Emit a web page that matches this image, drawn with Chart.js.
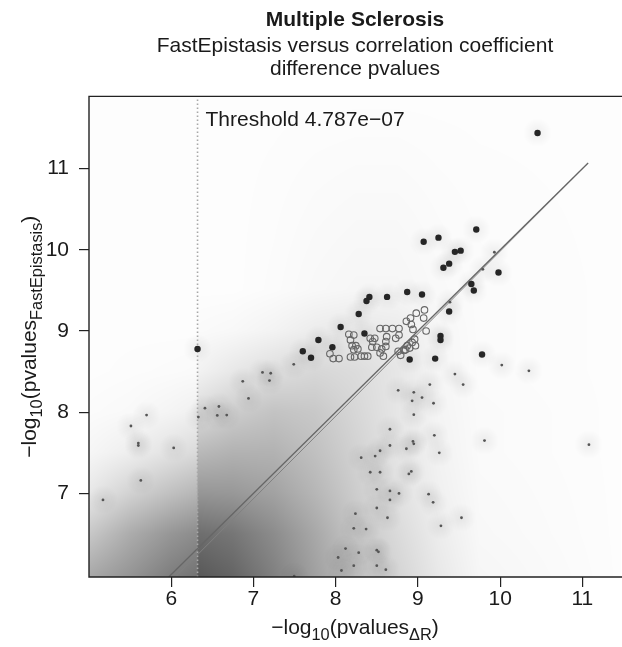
<!DOCTYPE html>
<html>
<head>
<meta charset="utf-8">
<script src="https://cdn.jsdelivr.net/npm/chart.js@4.4.1/dist/chart.umd.min.js"></script>
<style>
  html, body { margin: 0; padding: 0; background: #fff; overflow: hidden; }
  canvas { display: block; }
</style>
</head>
<body>
<canvas id="msChart" width="622" height="647"></canvas>
<script>
// axes
const xTicks = [6, 7, 8, 9, 10, 11];
const yTicks = [7, 8, 9, 10, 11];
const xRange = [5.0, 11.47];
const yRange = [5.97, 11.89];

// significance threshold, -log10(4.787e-07)
const threshold = 6.32;
const thresholdLabel = 'Threshold 4.787e\u221207';

// y = x reference lines
const lineX = [5.97, 11.07];
const lineY = [5.97, 11.07];
const line2X = [6.05, 11.07];
const line2Y = [5.97, 11.07];

// large black points
const bigX = [10.455, 9.71, 9.52, 9.45, 9.07, 9.25, 9.31, 9.38, 9.98, 9.65, 9.68, 9.78, 8.625, 8.87, 9.05,
  9.38, 9.275, 9.275, 9.21, 8.90, 8.41, 8.375, 8.28, 8.06, 7.79, 7.60, 7.70, 7.96, 8.35, 6.32];
const bigY = [11.44, 10.25, 9.99, 9.975, 10.10, 10.15, 9.78, 9.83, 9.72, 9.58, 9.50, 8.71, 9.42, 9.48, 9.45,
  9.24, 8.94, 8.89, 8.66, 8.65, 9.42, 9.37, 9.21, 9.05, 8.89, 8.75, 8.67, 8.80, 8.97, 8.78];

// small dots (outliers of the density plot)
const smallX = [9.93, 9.79, 9.39, 10.02, 10.35, 9.55, 9.45, 9.81, 11.08, 9.53, 7.49,
  9.145, 8.76, 8.95, 9.05, 8.93, 9.19, 8.95, 8.66, 9.20, 8.94, 8.95, 8.66, 8.86, 8.54, 8.48, 8.31, 9.26,
  8.42, 8.54, 8.89, 8.92, 8.50, 8.66, 8.77, 8.66, 9.13, 9.185, 8.50, 8.24, 8.63, 8.22, 8.37, 9.28, 8.12,
  8.28, 8.50, 8.52, 8.03, 8.22, 8.50, 8.07, 8.61, 7.495,
  7.11, 7.21, 7.195, 6.87, 6.94, 6.41, 6.58, 6.33, 6.56, 6.675, 5.70, 5.51, 5.60, 5.60, 6.03, 5.63, 5.17];
const smallY = [9.97, 9.76, 9.355, 8.58, 8.51, 8.34, 8.47, 7.65, 7.60, 6.70, 8.59,
  8.34, 8.27, 8.245, 8.18, 8.14, 8.11, 7.97, 7.79, 7.715, 7.64, 7.61, 7.59, 7.55, 7.525, 7.46, 7.44, 7.50,
  7.26, 7.26, 7.24, 7.27, 7.05, 7.03, 7.00, 6.92, 6.99, 6.89, 6.82, 6.75, 6.70, 6.57, 6.56, 6.60, 6.32,
  6.27, 6.30, 6.28, 6.21, 6.11, 6.11, 6.05, 6.06, 5.98,
  8.49, 8.48, 8.39, 8.38, 8.17, 8.05, 8.07, 7.94, 7.96, 7.965, 7.965, 7.83, 7.62, 7.59, 7.56, 7.16, 6.92];

// open grey circles
const circleX = [8.16, 8.22, 8.18, 8.20, 8.245, 8.22, 8.27, 8.23, 8.31, 8.35, 8.39, 8.42, 8.475, 8.45, 8.44,
  8.50, 8.56, 8.54, 8.58, 8.62, 8.61, 8.61, 8.73, 8.77, 8.86, 8.91, 8.92, 8.94, 8.98, 9.08, 9.07, 9.10,
  8.96, 8.93, 8.97, 8.87, 8.85, 8.90, 8.79, 8.76, 8.83, 7.93, 7.97, 8.04, 8.18, 8.54, 8.61, 8.69, 8.77];
const circleY = [8.96, 8.95, 8.89, 8.82, 8.82, 8.77, 8.78, 8.68, 8.69, 8.69, 8.69, 8.91, 8.91, 8.87, 8.80,
  8.80, 8.78, 8.73, 8.69, 8.93, 8.87, 8.81, 8.91, 8.95, 9.12, 9.16, 9.08, 9.02, 9.22, 9.26, 9.16, 9.00,
  8.90, 8.86, 8.82, 8.82, 8.77, 8.79, 8.70, 8.75, 8.76, 8.72, 8.66, 8.66, 8.68, 9.03, 9.03, 9.03, 9.03];

// smoothed density background: grey level (0-255) on a grid of x / y knots
const densityX = [5.0, 5.5, 6.0, 6.31, 6.33, 6.75, 7.25, 7.75, 8.25, 8.75, 9.25, 9.75, 11.5];
const densityY = [5.97, 6.5, 7.0, 7.5, 8.0, 8.5, 9.0, 9.5, 11.9];
const densityGrey = [
  [168, 148, 125, 115, 88, 100, 128, 160, 190, 212, 232, 246, 253],
  [200, 172, 150, 140, 110, 118, 140, 168, 198, 218, 236, 248, 253],
  [232, 210, 192, 182, 150, 152, 162, 182, 205, 225, 240, 249, 253],
  [246, 238, 226, 218, 185, 178, 178, 192, 210, 228, 242, 250, 253],
  [251, 249, 244, 240, 220, 205, 195, 200, 215, 230, 244, 250, 253],
  [253, 252, 251, 250, 242, 232, 222, 215, 220, 230, 245, 251, 253],
  [253, 253, 253, 253, 250, 248, 243, 236, 232, 235, 246, 251, 253],
  [253, 253, 253, 253, 253, 253, 251, 248, 246, 246, 249, 251, 253],
  [253, 253, 253, 253, 253, 253, 253, 253, 253, 253, 253, 253, 253]
];

const FONT = "'Liberation Sans', Arial, Helvetica, sans-serif";
const TEXT = '#1a1a1a';
Chart.defaults.font.family = FONT;

const toPoints = (xs, ys) => xs.map((x, i) => ({ x: x, y: ys[i] }));

// find segment + fraction of v in a knot list
function locate(knots, v) {
  if (v <= knots[0]) return [0, 0];
  for (let i = 0; i < knots.length - 1; i++) {
    if (v <= knots[i + 1]) return [i, (v - knots[i]) / (knots[i + 1] - knots[i])];
  }
  return [knots.length - 2, 1];
}

// faint halo drawn under every isolated point
const halo = (() => {
  const c = document.createElement('canvas');
  c.width = c.height = 30;
  const g = c.getContext('2d');
  const grad = g.createRadialGradient(15, 15, 0, 15, 15, 15);
  grad.addColorStop(0, 'rgba(0,0,0,0.06)');
  grad.addColorStop(1, 'rgba(0,0,0,0)');
  g.fillStyle = grad;
  g.fillRect(0, 0, 30, 30);
  return c;
})();

const densityPlugin = {
  id: 'density',
  beforeDatasetsDraw(chart) {
    const { ctx, chartArea: a, scales: { x, y } } = chart;
    const w = Math.round(a.right - a.left), h = Math.round(a.bottom - a.top);
    const off = document.createElement('canvas');
    off.width = w; off.height = h;
    const octx = off.getContext('2d');
    const img = octx.createImageData(w, h);
    const cols = [];
    for (let i = 0; i < w; i++) cols.push(locate(densityX, x.getValueForPixel(a.left + i + 0.5)));
    for (let j = 0; j < h; j++) {
      const [r, ty] = locate(densityY, y.getValueForPixel(a.top + j + 0.5));
      const lo = densityGrey[r], hi = densityGrey[r + 1];
      for (let i = 0; i < w; i++) {
        const [c, tx] = cols[i];
        const g0 = lo[c] * (1 - tx) + lo[c + 1] * tx;
        const g1 = hi[c] * (1 - tx) + hi[c + 1] * tx;
        const g = g0 * (1 - ty) + g1 * ty;
        const k = (j * w + i) * 4;
        img.data[k] = img.data[k + 1] = img.data[k + 2] = g;
        img.data[k + 3] = 255;
      }
    }
    octx.putImageData(img, 0, 0);
    ctx.drawImage(off, a.left, a.top);
  }
};

// text with subscripts: parts = [[text, isSub], ...], centred on x
function drawRich(ctx, parts, x, y, size) {
  const fontOf = sub => (sub ? size * 0.78 : size) + 'px ' + FONT;
  let total = 0;
  parts.forEach(([t, sub]) => { ctx.font = fontOf(sub); total += ctx.measureText(t).width; });
  let cx = x - total / 2;
  ctx.textAlign = 'left';
  ctx.textBaseline = 'alphabetic';
  parts.forEach(([t, sub]) => {
    ctx.font = fontOf(sub);
    ctx.fillText(t, cx, y + (sub ? size * 0.28 : 0));
    cx += ctx.measureText(t).width;
  });
}

const framePlugin = {
  id: 'frame',
  afterDatasetsDraw(chart) {
    const { ctx, chartArea: a } = chart;
    ctx.save();
    ctx.strokeStyle = '#222';
    ctx.lineWidth = 1.4;
    ctx.beginPath();
    ctx.moveTo(chart.width + 5, a.top);
    ctx.lineTo(a.left, a.top);
    ctx.lineTo(a.left, a.bottom);
    ctx.lineTo(chart.width + 5, a.bottom);
    ctx.stroke();
    ctx.restore();
  },
  afterDraw(chart) {
    const { ctx, chartArea: a, scales: { x, y } } = chart;
    ctx.save();
    ctx.fillStyle = TEXT;
    // threshold label
    ctx.font = '21px ' + FONT;
    ctx.textAlign = 'left';
    ctx.textBaseline = 'alphabetic';
    ctx.fillText(thresholdLabel, x.getPixelForValue(threshold) + 8, y.getPixelForValue(11.53));
    // x axis title
    drawRich(ctx, [['\u2212log', 0], ['10', 1], ['(pvalues', 0], ['\u0394R', 1], [')', 0]],
      (a.left + a.right) / 2, 634, 21);
    // y axis title
    ctx.translate(36, (a.top + a.bottom) / 2);
    ctx.rotate(-Math.PI / 2);
    drawRich(ctx, [['\u2212log', 0], ['10', 1], ['(pvalues', 0], ['FastEpistasis', 1], [')', 0]], 0, 0, 21);
    ctx.restore();
  }
};

const canvas = document.getElementById('msChart');
new Chart(canvas, {
  type: 'scatter',
  data: {
    datasets: [
      {
        label: 'circles', data: toPoints(circleX, circleY), order: 0, clip: 0,
        pointRadius: 3.3, pointBackgroundColor: 'rgba(0,0,0,0)', pointBorderColor: '#666', pointBorderWidth: 1.1
      },
      {
        label: 'significant', data: toPoints(bigX, bigY), order: 1, clip: 0,
        pointRadius: 3.2, pointBackgroundColor: '#262626', pointBorderWidth: 0
      },
      {
        label: 'outliers', data: toPoints(smallX, smallY), order: 2, clip: 0,
        pointRadius: 1.4, pointBackgroundColor: '#555', pointBorderWidth: 0
      },
      {
        label: 'identity', data: toPoints(lineX, lineY), order: 3, clip: 0, showLine: true,
        borderColor: '#666', borderWidth: 1.3, pointRadius: 0
      },
      {
        label: 'identity2', data: toPoints(line2X, line2Y), order: 4, clip: 0, showLine: true,
        borderColor: '#808080', borderWidth: 1, pointRadius: 0
      },
      {
        label: 'threshold', data: [{ x: threshold, y: yRange[0] }, { x: threshold, y: yRange[1] }],
        order: 5, clip: 0, showLine: true, borderColor: '#a8a8a8', borderWidth: 1.6,
        borderDash: [1.5, 2.5], pointRadius: 0
      },
      {
        label: 'halo', data: toPoints(bigX.concat(smallX), bigY.concat(smallY)), order: 6, clip: 0,
        pointStyle: halo, pointRadius: 15
      }
    ]
  },
  options: {
    responsive: false,
    animation: false,
    events: [],
    layout: { autoPadding: false, padding: { left: 0, right: 1, top: 0, bottom: 0 } },
    plugins: {
      legend: { display: false },
      tooltip: { enabled: false },
      title: {
        display: true, fullSize: false, text: 'Multiple Sclerosis', color: TEXT,
        font: { size: 21, weight: 'bold' }, padding: { top: 8, bottom: 1 }
      },
      subtitle: {
        display: true, fullSize: false, color: TEXT,
        text: ['FastEpistasis versus correlation coefficient', 'difference pvalues'],
        font: { size: 21, lineHeight: 1.1 }, padding: { top: 0, bottom: 16 }
      }
    },
    scales: {
      x: {
        type: 'linear', min: xRange[0], max: xRange[1],
        afterBuildTicks: s => { s.ticks = xTicks.map(v => ({ value: v })); },
        afterFit: s => { s.height = 70; s.paddingLeft = 0; s.paddingRight = 0; },
        border: { display: false },
        grid: { drawOnChartArea: false, drawTicks: true, tickLength: 10, color: '#222', lineWidth: 1.2 },
        ticks: { color: TEXT, font: { size: 21 }, padding: 0, maxRotation: 0, autoSkip: false }
      },
      y: {
        type: 'linear', min: yRange[0], max: yRange[1],
        afterBuildTicks: s => { s.ticks = yTicks.map(v => ({ value: v })); },
        afterFit: s => { s.width = 89; s.paddingTop = 0; s.paddingBottom = 0; },
        border: { display: false },
        grid: { drawOnChartArea: false, drawTicks: true, tickLength: 10, color: '#222', lineWidth: 1.2 },
        ticks: { color: TEXT, font: { size: 21 }, padding: 10, autoSkip: false }
      }
    }
  },
  plugins: [densityPlugin, framePlugin]
});
</script>
</body>
</html>
